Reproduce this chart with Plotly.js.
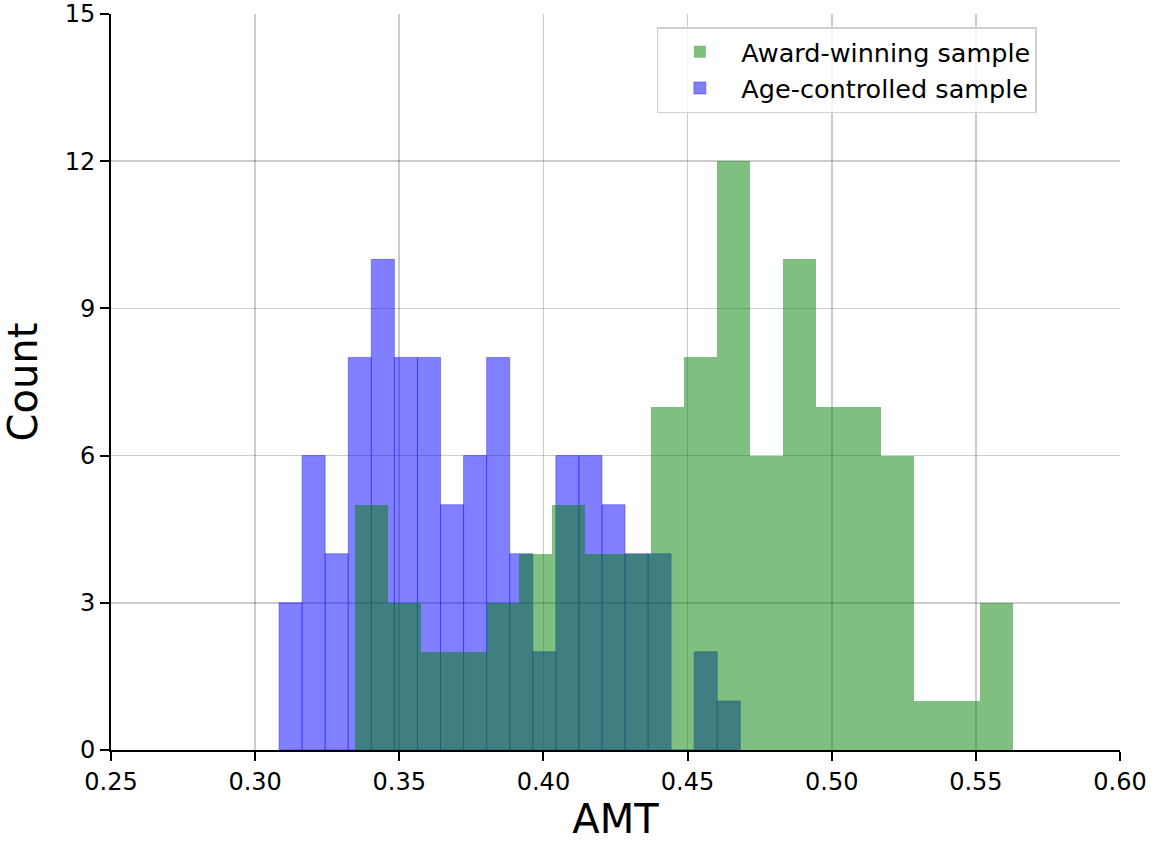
<!DOCTYPE html>
<html>
<head>
<meta charset="utf-8">
<script src="https://cdn.plot.ly/plotly-3.0.1.min.js"></script>
<style>html,body{margin:0;padding:0;background:#fff;}#chart{width:1156px;height:842px;}</style>
</head>
<body>
<div id="chart"></div>
<script>
// Bin ranges (min, max) and counts; 20 equal bins each
var awardRange = [0.3346, 0.5629];
var awardCounts = [5, 3, 2, 2, 3, 4, 5, 4, 4, 7, 8, 12, 6, 10, 7, 7, 6, 1, 1, 3];
var ageRange = [0.3083, 0.4683];
var ageCounts = [3, 6, 4, 8, 10, 8, 8, 5, 6, 8, 4, 2, 6, 6, 5, 4, 4, 0, 2, 1];
var seriesNames = ["Award-winning sample", "Age-controlled sample"];
var xTicks = [0.25, 0.30, 0.35, 0.40, 0.45, 0.50, 0.55, 0.60];
var yTicks = [0, 3, 6, 9, 12, 15];

function binCenters(range, n) {
  var w = (range[1] - range[0]) / n, c = [];
  for (var i = 0; i < n; i++) c.push(range[0] + w * (i + 0.5));
  return {centers: c, width: w};
}
var ab = binCenters(awardRange, awardCounts.length);
var gb = binCenters(ageRange, ageCounts.length);

var traces = [
  {
    type: 'bar', name: seriesNames[1], x: gb.centers, y: ageCounts, width: gb.width,
    marker: {color: 'rgba(0,0,255,0.5)', line: {width: 0.8, color: 'rgba(0,0,255,0.45)'}}
  },
  {
    type: 'bar', name: seriesNames[0], x: ab.centers, y: awardCounts, width: ab.width,
    marker: {color: 'rgba(0,128,0,0.5)', line: {width: 0, color: 'rgba(0,128,0,0)'}}
  }
];

var font = "DejaVu Sans, Liberation Sans, sans-serif";
var layout = {
  width: 1156, height: 842,
  margin: {l: 111, r: 36, t: 14, b: 92},
  paper_bgcolor: '#fff', plot_bgcolor: '#fff',
  barmode: 'overlay', bargap: 0,
  font: {family: font, color: '#000'},
  showlegend: true,
  legend: {
    traceorder: 'reversed',
    x: 0.541, y: 0.982, xanchor: 'left', yanchor: 'top',
    bgcolor: 'rgba(255,255,255,0.8)', bordercolor: '#d0d0d0', borderwidth: 1.5,
    font: {size: 25.5, family: font}, itemwidth: 73
  },
  xaxis: {
    range: [0.25, 0.60], tickvals: xTicks, ticktext: xTicks.map(function(v){return v.toFixed(2);}),
    ticks: 'outside', ticklen: 9, tickwidth: 2, tickcolor: '#000',
    showline: true, linecolor: '#000', linewidth: 2,
    showgrid: true, gridcolor: 'rgba(0,0,0,0.2)', gridwidth: 1.6,
    zeroline: false, layer: 'above traces',
    tickfont: {size: 24, family: font},
    title: {text: 'AMT', font: {size: 40, family: font}, standoff: 10}
  },
  yaxis: {
    range: [0, 15], tickvals: yTicks,
    ticks: 'outside', ticklen: 9, tickwidth: 2, tickcolor: '#000',
    showline: true, linecolor: '#000', linewidth: 2,
    showgrid: true, gridcolor: 'rgba(0,0,0,0.2)', gridwidth: 1.6,
    zeroline: false, layer: 'above traces',
    tickfont: {size: 24, family: font},
    title: {text: 'Count', font: {size: 40, family: font}, standoff: 16}
  }
};

Plotly.newPlot('chart', traces, layout, {displayModeBar: false, staticPlot: true});
</script>
</body>
</html>
